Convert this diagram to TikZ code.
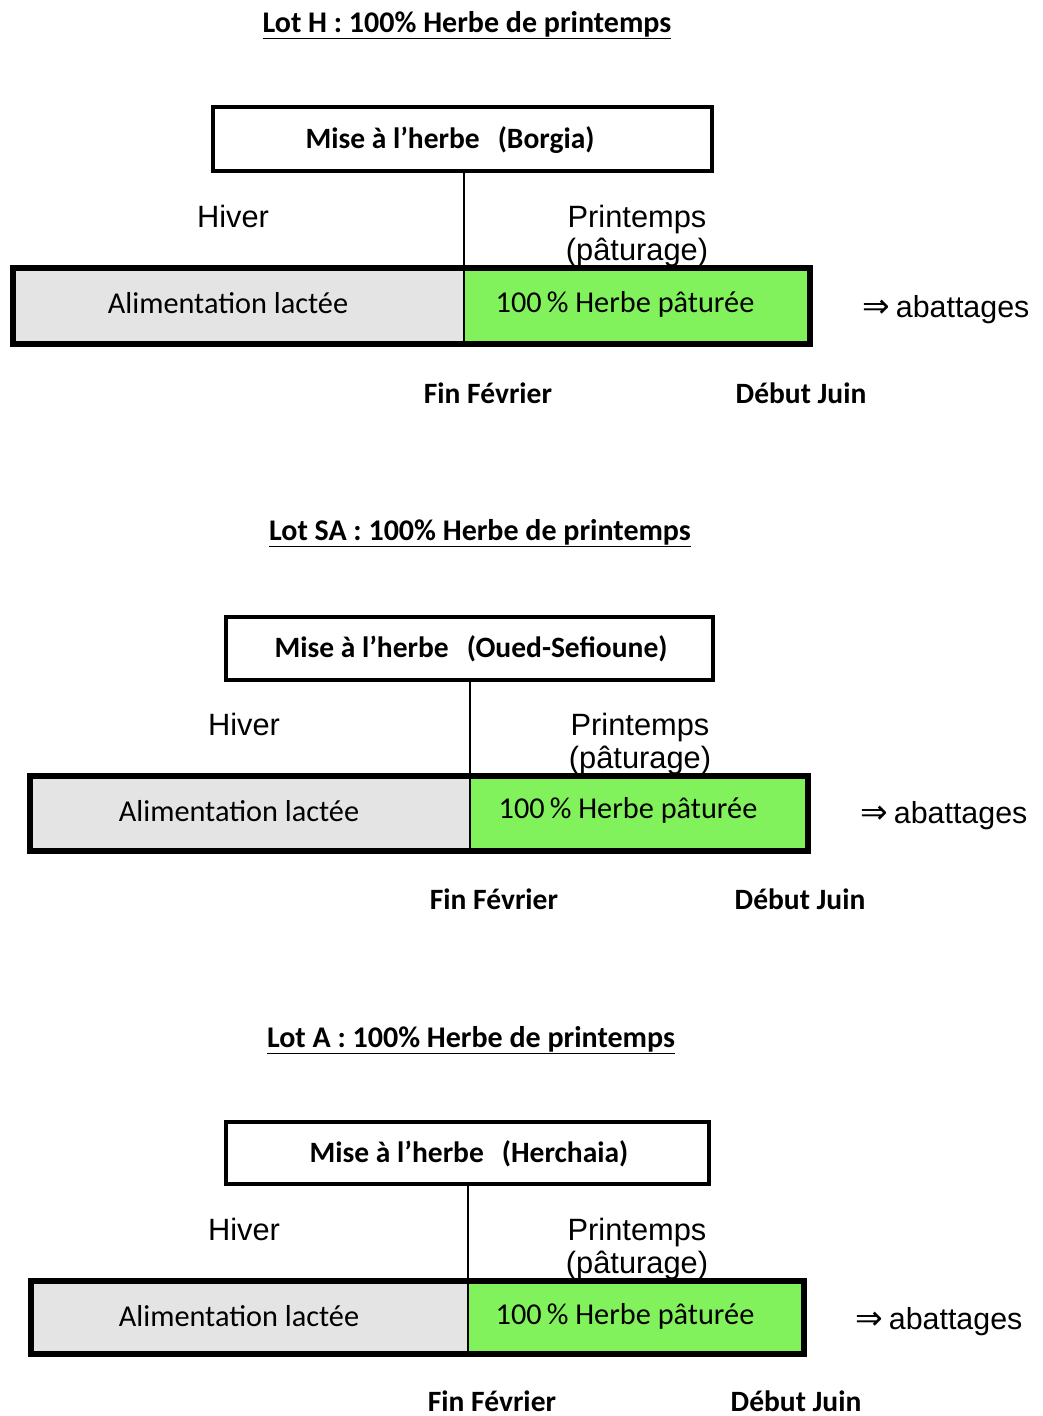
\documentclass[tikz,border=0pt]{standalone}
\usepackage{fontspec}
\newfontfamily\calfont{Carlito}
\newfontfamily\arifont{Liberation Sans}
\newfontfamily\symfont{DejaVu Sans}
\definecolor{milkgrey}{RGB}{228,228,228}
\definecolor{grassgreen}{RGB}{130,242,92}
\tikzset{
  lottitle/.style={anchor=base,inner sep=0pt,font=\calfont\bfseries\fontsize{30}{34}\selectfont},
  sitebox/.style={draw,line width=3.5pt,fill=white},
  sitetext/.style={anchor=base,inner sep=0pt,font=\calfont\bfseries\fontsize{29.5}{34}\selectfont},
  season/.style={anchor=base,inner sep=0pt,font=\arifont\fontsize{30.8}{35}\selectfont},
  feedtext/.style={anchor=base,inner sep=0pt,font=\calfont\fontsize{30.3}{35}\selectfont},
  datetext/.style={anchor=base,inner sep=0pt,font=\calfont\bfseries\fontsize{29.5}{34}\selectfont},
  endtext/.style={anchor=base west,inner sep=0pt,font=\arifont\fontsize{30.4}{35}\selectfont},
  barframe/.style={draw,line width=6pt},
  tick/.style={line width=1.6pt}
}
\newcommand{\slaughter}{{\symfont\fontsize{33}{36}\selectfont ⇒}\hspace{6pt}abattages}
\begin{document}
\begin{tikzpicture}[x=1pt,y=-1pt]
\useasboundingbox (0,0) rectangle (1043,1416);

% ---------- Lot H ----------
\begin{scope}[shift={(0,0)}]
  \node[lottitle] (tH) at (467,32) {\underline{Lot H : 100\% Herbe de printemps}};
  \draw[sitebox] (213,107) rectangle (712,171);
  \node[sitetext] (sH) at (450,148) {Mise à l’herbe\hspace{18pt}(Borgia)};
  \coordinate (topH) at (464,171);
  \coordinate (botH) at (464,347);
  \node[season] (hivH) at (233,227) {Hiver};
  \node[season] (prH) at (637,227) {Printemps};
  \node[season] (paH) at (637,260) {(pâturage)};
  \fill[milkgrey] (13,268) rectangle (464,344);
  \fill[grassgreen] (464,268) rectangle (810,344);
  \draw[barframe] (13,268) rectangle (810,344);
  \draw[tick] (topH) -- (botH);
  \node[feedtext] (alH) at (228,313) {Alimentation lactée};
  \node[feedtext] (heH) at (625,312) {100\,\% Herbe pâturée};
  \node[endtext] (abH) at (862,317) {\slaughter};
  \node[datetext] (fiH) at (488,403) {Fin Février};
  \node[datetext] (deH) at (801,403) {Début Juin};
\end{scope}

% ---------- Lot SA ----------
\begin{scope}[shift={(0,508)}]
  \node[lottitle] (tS) at (480,32) {\underline{Lot SA : 100\% Herbe de printemps}};
  \draw[sitebox] (226,109) rectangle (713,172);
  \node[sitetext] (sS) at (471,149) {Mise à l’herbe\hspace{18pt}(Oued-Sefioune)};
  \coordinate (topS) at (470,172);
  \coordinate (botS) at (470,346);
  \node[season] (hivS) at (244,227) {Hiver};
  \node[season] (prS) at (640,227) {Printemps};
  \node[season] (paS) at (640,260) {(pâturage)};
  \fill[milkgrey] (30,268) rectangle (470,343);
  \fill[grassgreen] (470,268) rectangle (808,343);
  \draw[barframe] (30,268) rectangle (808,343);
  \draw[tick] (topS) -- (botS);
  \node[feedtext] (alS) at (239,313) {Alimentation lactée};
  \node[feedtext] (heS) at (628,310) {100\,\% Herbe pâturée};
  \node[endtext] (abS) at (860,315) {\slaughter};
  \node[datetext] (fiS) at (494,401) {Fin Février};
  \node[datetext] (deS) at (800,401) {Début Juin};
\end{scope}

% ---------- Lot A ----------
\begin{scope}[shift={(0,1012)}]
  \node[lottitle] (tA) at (471,35) {\underline{Lot A : 100\% Herbe de printemps}};
  \draw[sitebox] (226,110) rectangle (709,172);
  \node[sitetext] (sA) at (469,150) {Mise à l’herbe\hspace{18pt}(Herchaia)};
  \coordinate (topA) at (468,172);
  \coordinate (botA) at (468,345);
  \node[season] (hivA) at (244,228) {Hiver};
  \node[season] (prA) at (637,228) {Printemps};
  \node[season] (paA) at (637,261) {(pâturage)};
  \fill[milkgrey] (31,269) rectangle (468,342);
  \fill[grassgreen] (468,269) rectangle (804,342);
  \draw[barframe] (31,269) rectangle (804,342);
  \draw[tick] (topA) -- (botA);
  \node[feedtext] (alA) at (239,314) {Alimentation lactée};
  \node[feedtext] (heA) at (625,312) {100\,\% Herbe pâturée};
  \node[endtext] (abA) at (855,317) {\slaughter};
  \node[datetext] (fiA) at (492,399) {Fin Février};
  \node[datetext] (deA) at (796,399) {Début Juin};
\end{scope}
\end{tikzpicture}
\end{document}
